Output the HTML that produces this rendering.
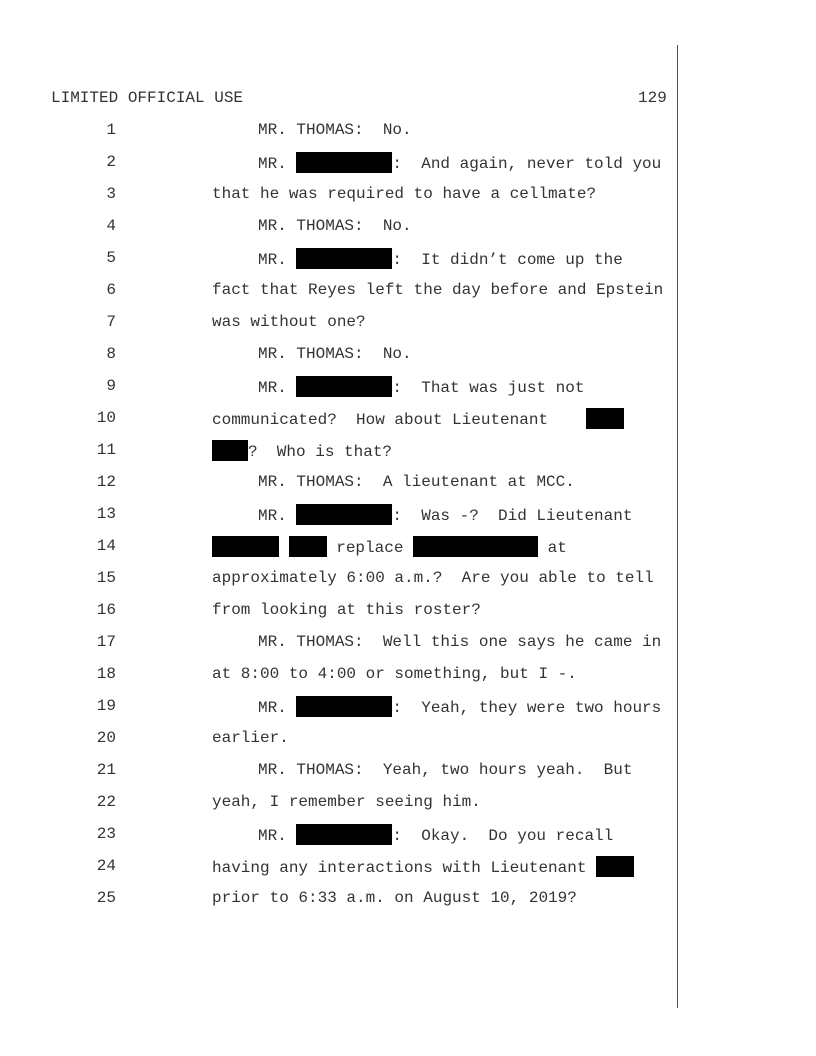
<!DOCTYPE html>
<html><head><meta charset="utf-8"><style>
body{margin:0;background:#fff;}
#p{position:relative;width:816px;height:1056px;overflow:hidden;font-family:"Liberation Mono",monospace;font-size:16px;color:#333;}
.l{position:absolute;white-space:pre;line-height:20px;height:20px;}
.n{position:absolute;left:60px;width:56px;text-align:right;line-height:20px;}
.r{display:inline-block;background:#000;height:21px;vertical-align:-5px;}
#vl{position:absolute;left:677px;top:45px;width:1px;height:963px;background:#555;}
</style></head><body><div id="p">
<div id="vl"></div>
<div class="l" style="left:51px;top:88px">LIMITED OFFICIAL USE</div>
<div class="l" style="left:638px;top:88px">129</div>

<div class="n" style="top:120px">1</div><div class="l" style="left:258px;top:120px">MR. THOMAS:  No.</div>
<div class="n" style="top:152px">2</div><div class="l" style="left:258px;top:152px">MR. <span class="r" style="width:96px"></span>:  And again, never told you</div>
<div class="n" style="top:184px">3</div><div class="l" style="left:212px;top:184px">that he was required to have a cellmate?</div>
<div class="n" style="top:216px">4</div><div class="l" style="left:258px;top:216px">MR. THOMAS:  No.</div>
<div class="n" style="top:248px">5</div><div class="l" style="left:258px;top:248px">MR. <span class="r" style="width:96px"></span>:  It didn’t come up the</div>
<div class="n" style="top:280px">6</div><div class="l" style="left:212px;top:280px">fact that Reyes left the day before and Epstein</div>
<div class="n" style="top:312px">7</div><div class="l" style="left:212px;top:312px">was without one?</div>
<div class="n" style="top:344px">8</div><div class="l" style="left:258px;top:344px">MR. THOMAS:  No.</div>
<div class="n" style="top:376px">9</div><div class="l" style="left:258px;top:376px">MR. <span class="r" style="width:96px"></span>:  That was just not</div>
<div class="n" style="top:408px">10</div><div class="l" style="left:212px;top:408px">communicated?  How about Lieutenant    <span class="r" style="width:38px"></span></div>
<div class="n" style="top:440px">11</div><div class="l" style="left:212px;top:440px"><span class="r" style="width:36px"></span>?  Who is that?</div>
<div class="n" style="top:472px">12</div><div class="l" style="left:258px;top:472px">MR. THOMAS:  A lieutenant at MCC.</div>
<div class="n" style="top:504px">13</div><div class="l" style="left:258px;top:504px">MR. <span class="r" style="width:96px"></span>:  Was -?  Did Lieutenant</div>
<div class="n" style="top:536px">14</div><div class="l" style="left:212px;top:536px"><span class="r" style="width:67px"></span> <span class="r" style="width:38px"></span> replace <span class="r" style="width:125px"></span> at</div>
<div class="n" style="top:568px">15</div><div class="l" style="left:212px;top:568px">approximately 6:00 a.m.?  Are you able to tell</div>
<div class="n" style="top:600px">16</div><div class="l" style="left:212px;top:600px">from looking at this roster?</div>
<div class="n" style="top:632px">17</div><div class="l" style="left:258px;top:632px">MR. THOMAS:  Well this one says he came in</div>
<div class="n" style="top:664px">18</div><div class="l" style="left:212px;top:664px">at 8:00 to 4:00 or something, but I -.</div>
<div class="n" style="top:696px">19</div><div class="l" style="left:258px;top:696px">MR. <span class="r" style="width:96px"></span>:  Yeah, they were two hours</div>
<div class="n" style="top:728px">20</div><div class="l" style="left:212px;top:728px">earlier.</div>
<div class="n" style="top:760px">21</div><div class="l" style="left:258px;top:760px">MR. THOMAS:  Yeah, two hours yeah.  But</div>
<div class="n" style="top:792px">22</div><div class="l" style="left:212px;top:792px">yeah, I remember seeing him.</div>
<div class="n" style="top:824px">23</div><div class="l" style="left:258px;top:824px">MR. <span class="r" style="width:96px"></span>:  Okay.  Do you recall</div>
<div class="n" style="top:856px">24</div><div class="l" style="left:212px;top:856px">having any interactions with Lieutenant <span class="r" style="width:38px"></span></div>
<div class="n" style="top:888px">25</div><div class="l" style="left:212px;top:888px">prior to 6:33 a.m. on August 10, 2019?</div>
</div></body></html>
